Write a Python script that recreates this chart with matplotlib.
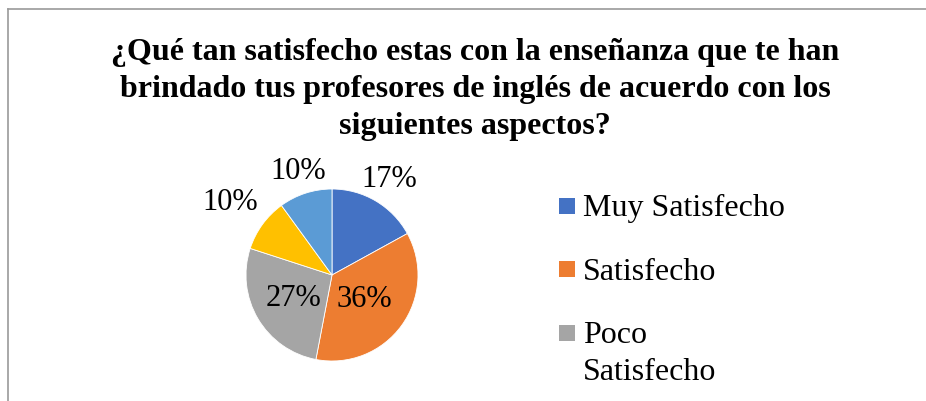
import matplotlib
matplotlib.use("Agg")
import matplotlib.pyplot as plt
from matplotlib.patches import Rectangle
from matplotlib.lines import Line2D
import numpy as np

plt.rcParams['font.family'] = ['Liberation Serif', 'DejaVu Serif']

title = "¿Qué tan satisfecho estas con la enseñanza que te han\nbrindado tus profesores de inglés de acuerdo con los\nsiguientes aspectos?"
categories = ["Muy Satisfecho", "Satisfecho", "Poco Satisfecho", "Insatisfecho", "Muy Insatisfecho"]
values = [17, 36, 27, 10, 10]
legend_labels = ["Muy Satisfecho", "Satisfecho", "Poco\nSatisfecho"]
colors = ["#4472C4", "#ED7D31", "#A5A5A5", "#FFC000", "#5B9BD5"]
label_dist = [1.31, 0.46, 0.52, 1.46, 1.28]

W, H = 926, 402
fig = plt.figure(figsize=(W / 100, H / 100), dpi=100)
fig.patch.set_facecolor("white")

# border (left + top)
fig.add_artist(Line2D([8 / W, 8 / W], [0, 1 - 10 / H], transform=fig.transFigure, color="#9A9A9A", lw=1.2))
fig.add_artist(Line2D([8 / W, 1], [1 - 10 / H, 1 - 10 / H], transform=fig.transFigure, color="#9A9A9A", lw=1.2))

# title, one baseline per line
for i, line in enumerate(title.split("\n")):
    fig.text(475 / W, 1 - (60 + 37 * i) / H, line, ha="center", va="baseline",
             fontsize=23, fontweight="bold")

cx, cy, r = 332, 276, 86
ax = fig.add_axes([(cx - r) / W, (H - cy - r) / H, 2 * r / W, 2 * r / H])
wedges, _ = ax.pie(values, colors=colors, startangle=90, counterclock=False, radius=1,
                   wedgeprops=dict(linewidth=0.6, edgecolor="white"))
ax.set_xlim(-1, 1)
ax.set_ylim(-1, 1)
ax.set_aspect("equal")
ax.axis("off")

total = sum(values)
for w, v, d in zip(wedges, values, label_dist):
    mid = np.deg2rad((w.theta1 + w.theta2) / 2)
    ax.text(d * np.cos(mid), d * np.sin(mid), f"{round(100 * v / total)}%",
            ha="center", va="center", fontsize=22, clip_on=False)

# legend (first three entries visible)
mx, msz = 559, 16
ys = [207, 270, 334]
for lab, col, y in zip(legend_labels, colors, ys):
    fig.add_artist(Rectangle((mx / W, (H - y - msz / 2) / H), msz / W, msz / H,
                             transform=fig.transFigure, facecolor=col, edgecolor="none"))
    for j, line in enumerate(lab.split("\n")):
        fig.text(583 / W, (H - y - 9.5 - 37 * j) / H, line, ha="left", va="baseline",
                 fontsize=23)

fig.savefig("out.png", dpi=100)
